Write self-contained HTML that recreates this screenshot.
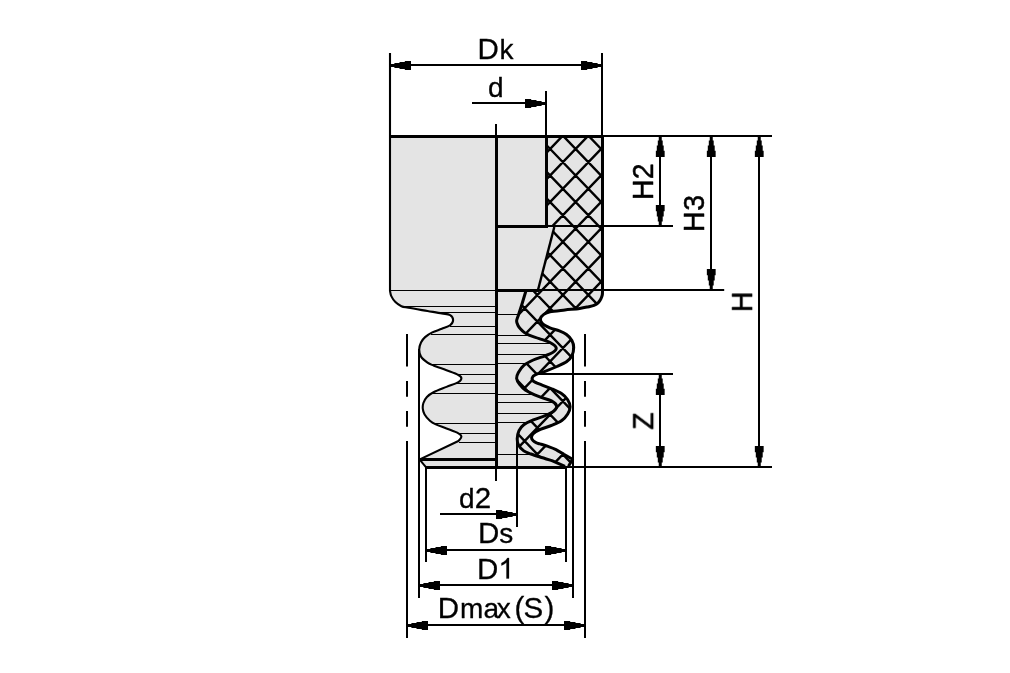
<!DOCTYPE html>
<html><head><meta charset="utf-8"><title>Bellows suction cup dimensions</title>
<style>
html,body{margin:0;padding:0;background:#fff;}
body{width:1010px;height:673px;overflow:hidden;}
svg{display:block;}
text{font-family:"Liberation Sans",sans-serif;font-size:29.5px;fill:#000;}
</style></head><body>
<svg width="1010" height="673" viewBox="0 0 1010 673">
<rect x="0" y="0" width="1010" height="673" fill="#fff"/>
<path d="M390,136.5 L390,290.8 C390.22,291.68 390.4,294.22 391.3,296.1 C392.2,297.98 393.72,300.42 395.4,302.1 C397.08,303.78 399.22,305.25 401.4,306.2 C403.58,307.15 404.15,307 408.5,307.8 C412.85,308.6 421.95,310.07 427.5,311 C433.05,311.93 438.03,312.72 441.8,313.4 C445.57,314.08 448.22,314.02 450.1,315.1 C451.98,316.18 453.1,318.22 453.1,319.9 C453.1,321.58 451.98,323.72 450.1,325.2 C448.22,326.68 444.77,327.6 441.8,328.8 C438.83,330 435.08,331.02 432.3,332.4 C429.52,333.78 426.98,335.42 425.1,337.1 C423.22,338.78 421.98,340.43 421,342.5 C420.02,344.57 419.2,347.15 419.2,349.5 C419.2,351.85 419.62,354.42 421,356.6 C422.38,358.78 425.42,361.12 427.5,362.6 C429.58,364.08 430.33,364.22 433.5,365.5 C436.67,366.78 442.35,368.72 446.5,370.3 C450.65,371.88 455.92,373.67 458.4,375 C460.88,376.33 461.4,377.1 461.4,378.3 C461.4,379.5 460.88,380.77 458.4,382.2 C455.92,383.63 450.65,385.22 446.5,386.9 C442.35,388.58 436.77,390.62 433.5,392.3 C430.23,393.98 428.58,395.22 426.9,397 C425.22,398.78 424.08,401.02 423.4,403 C422.72,404.98 422.6,406.98 422.8,408.9 C423,410.82 423.42,412.52 424.6,414.5 C425.78,416.48 428.03,419.15 429.9,420.8 C431.77,422.45 433.03,423.12 435.8,424.4 C438.57,425.68 442.73,427.02 446.5,428.5 C450.27,429.98 455.92,431.92 458.4,433.3 C460.88,434.68 461.4,435.52 461.4,436.8 C461.4,438.08 458.9,440.3 458.4,441 L419.8,459.4 L425.7,466.8 L496.5,467.5 L496.5,136.5 Z" fill="#e4e4e4" stroke="none"/>
<path d="M496.5,136.5 L602.5,136.5 L602.5,290 C602.47,290.82 602.58,293.4 602.3,294.9 C602.02,296.4 601.5,297.67 600.8,299 C600.1,300.33 599.23,301.85 598.1,302.9 C596.97,303.95 595.58,304.67 594,305.3 C592.42,305.93 590.98,306.17 588.6,306.7 C586.22,307.23 583.65,307.95 579.7,308.5 C575.75,309.05 569.85,309.45 564.9,310 C559.95,310.55 553.52,311.07 550,311.8 C546.48,312.53 545.38,313.28 543.8,314.4 C542.22,315.52 540.77,317 540.5,318.5 C540.23,320 540.63,321.83 542.2,323.4 C543.77,324.97 547.03,326.65 549.9,327.9 C552.77,329.15 556.63,329.8 559.4,330.9 C562.17,332 564.42,332.92 566.5,334.5 C568.58,336.08 570.7,338.23 571.9,340.4 C573.1,342.57 573.7,344.93 573.7,347.5 C573.7,350.07 573.1,353.42 571.9,355.8 C570.7,358.18 568.98,360.02 566.5,361.8 C564.02,363.58 560.57,364.92 557,366.5 C553.43,368.08 548.67,369.95 545.1,371.3 C541.53,372.65 537.73,373.55 535.6,374.6 C533.47,375.65 532.65,376.48 532.3,377.6 C531.95,378.72 531.95,380.08 533.5,381.3 C535.05,382.52 538.47,383.62 541.6,384.9 C544.73,386.18 548.93,387.52 552.3,389 C555.67,390.48 559.23,392.02 561.8,393.8 C564.37,395.58 566.32,397.53 567.7,399.7 C569.08,401.87 570.1,404.42 570.1,406.8 C570.1,409.18 569.08,411.72 567.7,414 C566.32,416.28 564.37,418.63 561.8,420.5 C559.23,422.37 555.87,423.72 552.3,425.2 C548.73,426.68 543.57,428 540.4,429.4 C537.23,430.8 534.78,432.22 533.3,433.6 C531.82,434.98 531.52,436.5 531.5,437.7 C531.48,438.9 532.37,439.93 533.2,440.8 C534.03,441.67 535.37,442.38 536.5,442.9 C537.63,443.42 538.08,443.32 540,443.9 C541.92,444.48 545.33,445.45 548,446.4 C550.67,447.35 553.37,448.28 556,449.6 C558.63,450.92 562.5,453.52 563.8,454.3 L572.6,459.2 L568.5,466.3 L496.5,467.5 Z" fill="#e4e4e4" stroke="none"/>
<defs><clipPath id="hc"><path d="M546.5,136.5 L602.5,136.5 L602.5,290 C602.47,290.82 602.58,293.4 602.3,294.9 C602.02,296.4 601.5,297.67 600.8,299 C600.1,300.33 599.23,301.85 598.1,302.9 C596.97,303.95 595.58,304.67 594,305.3 C592.42,305.93 590.98,306.17 588.6,306.7 C586.22,307.23 583.65,307.95 579.7,308.5 C575.75,309.05 569.85,309.45 564.9,310 C559.95,310.55 553.52,311.07 550,311.8 C546.48,312.53 545.38,313.28 543.8,314.4 C542.22,315.52 540.77,317 540.5,318.5 C540.23,320 540.63,321.83 542.2,323.4 C543.77,324.97 547.03,326.65 549.9,327.9 C552.77,329.15 556.63,329.8 559.4,330.9 C562.17,332 564.42,332.92 566.5,334.5 C568.58,336.08 570.7,338.23 571.9,340.4 C573.1,342.57 573.7,344.93 573.7,347.5 C573.7,350.07 573.1,353.42 571.9,355.8 C570.7,358.18 568.98,360.02 566.5,361.8 C564.02,363.58 560.57,364.92 557,366.5 C553.43,368.08 548.67,369.95 545.1,371.3 C541.53,372.65 537.73,373.55 535.6,374.6 C533.47,375.65 532.65,376.48 532.3,377.6 C531.95,378.72 531.95,380.08 533.5,381.3 C535.05,382.52 538.47,383.62 541.6,384.9 C544.73,386.18 548.93,387.52 552.3,389 C555.67,390.48 559.23,392.02 561.8,393.8 C564.37,395.58 566.32,397.53 567.7,399.7 C569.08,401.87 570.1,404.42 570.1,406.8 C570.1,409.18 569.08,411.72 567.7,414 C566.32,416.28 564.37,418.63 561.8,420.5 C559.23,422.37 555.87,423.72 552.3,425.2 C548.73,426.68 543.57,428 540.4,429.4 C537.23,430.8 534.78,432.22 533.3,433.6 C531.82,434.98 531.52,436.5 531.5,437.7 C531.48,438.9 532.37,439.93 533.2,440.8 C534.03,441.67 535.37,442.38 536.5,442.9 C537.63,443.42 538.08,443.32 540,443.9 C541.92,444.48 545.33,445.45 548,446.4 C550.67,447.35 553.37,448.28 556,449.6 C558.63,450.92 562.5,453.52 563.8,454.3 L572.6,459.2 L568.5,466.3 L565,466.3 L551.9,460.6 C549.92,460 543.48,458.1 540,457 C536.52,455.9 533.7,455.02 531,454 C528.3,452.98 525.87,452.37 523.8,450.9 C521.73,449.43 519.7,447.2 518.6,445.2 C517.5,443.2 517.13,441.33 517.2,438.9 C517.27,436.47 517.9,432.97 519,430.6 C520.1,428.23 521.42,426.48 523.8,424.7 C526.18,422.92 529.75,421.4 533.3,419.9 C536.85,418.4 541.67,417.18 545.1,415.7 C548.53,414.22 551.98,412.63 553.9,411 C555.82,409.37 557,407.58 556.6,405.9 C556.2,404.22 554.4,402.43 551.5,400.9 C548.6,399.37 543.53,398.48 539.2,396.7 C534.87,394.92 528.77,392.27 525.5,390.2 C522.23,388.13 521.08,386.28 519.6,384.3 C518.12,382.32 516.8,380.27 516.6,378.3 C516.4,376.33 517.2,374.67 518.4,372.5 C519.6,370.33 521.32,367.38 523.8,365.3 C526.28,363.22 529.75,361.58 533.3,360 C536.85,358.42 541.83,357.07 545.1,355.8 C548.37,354.53 551.05,353.73 552.9,352.4 C554.75,351.07 556.62,349.42 556.2,347.8 C555.78,346.18 553.23,344.23 550.4,342.7 C547.57,341.17 542.77,339.85 539.2,338.6 C535.63,337.35 531.5,336.23 529,335.2 C526.5,334.17 525.6,333.43 524.2,332.4 C522.8,331.37 521.63,330.15 520.6,329 C519.57,327.85 518.67,326.83 518,325.5 C517.33,324.17 516.57,322.63 516.6,321 C516.63,319.37 517.35,318.37 518.2,315.7 C519.05,313.03 520.42,309.12 521.7,305 C522.98,300.88 525.2,293.33 525.9,291 L538,290 L554.3,227 L546.5,226 Z"/></clipPath></defs>
<g clip-path="url(#hc)"><path d="M-10.9,95.78 L448.1,573.86 M91.1,95.78 L-367.9,573.86 M14.6,95.78 L473.6,573.86 M116.6,95.78 L-342.4,573.86 M40.1,95.78 L499.1,573.86 M142.1,95.78 L-316.9,573.86 M65.6,95.78 L524.6,573.86 M167.6,95.78 L-291.4,573.86 M91.1,95.78 L550.1,573.86 M193.1,95.78 L-265.9,573.86 M116.6,95.78 L575.6,573.86 M218.6,95.78 L-240.4,573.86 M142.1,95.78 L601.1,573.86 M244.1,95.78 L-214.9,573.86 M167.6,95.78 L626.6,573.86 M269.6,95.78 L-189.4,573.86 M193.1,95.78 L652.1,573.86 M295.1,95.78 L-163.9,573.86 M218.6,95.78 L677.6,573.86 M320.6,95.78 L-138.4,573.86 M244.1,95.78 L703.1,573.86 M346.1,95.78 L-112.9,573.86 M269.6,95.78 L728.6,573.86 M371.6,95.78 L-87.4,573.86 M295.1,95.78 L754.1,573.86 M397.1,95.78 L-61.9,573.86 M320.6,95.78 L779.6,573.86 M422.6,95.78 L-36.4,573.86 M346.1,95.78 L805.1,573.86 M448.1,95.78 L-10.9,573.86 M371.6,95.78 L830.6,573.86 M473.6,95.78 L14.6,573.86 M397.1,95.78 L856.1,573.86 M499.1,95.78 L40.1,573.86 M422.6,95.78 L881.6,573.86 M524.6,95.78 L65.6,573.86 M448.1,95.78 L907.1,573.86 M550.1,95.78 L91.1,573.86 M473.6,95.78 L932.6,573.86 M575.6,95.78 L116.6,573.86 M499.1,95.78 L958.1,573.86 M601.1,95.78 L142.1,573.86 M524.6,95.78 L983.6,573.86 M626.6,95.78 L167.6,573.86 M550.1,95.78 L1009.1,573.86 M652.1,95.78 L193.1,573.86 M575.6,95.78 L1034.6,573.86 M677.6,95.78 L218.6,573.86 M601.1,95.78 L1060.1,573.86 M703.1,95.78 L244.1,573.86 M626.6,95.78 L1085.6,573.86 M728.6,95.78 L269.6,573.86 M652.1,95.78 L1111.1,573.86 M754.1,95.78 L295.1,573.86 M677.6,95.78 L1136.6,573.86 M779.6,95.78 L320.6,573.86 M703.1,95.78 L1162.1,573.86 M805.1,95.78 L346.1,573.86 M728.6,95.78 L1187.6,573.86 M830.6,95.78 L371.6,573.86 M754.1,95.78 L1213.1,573.86 M856.1,95.78 L397.1,573.86 M779.6,95.78 L1238.6,573.86 M881.6,95.78 L422.6,573.86 M805.1,95.78 L1264.1,573.86 M907.1,95.78 L448.1,573.86 M830.6,95.78 L1289.6,573.86 M932.6,95.78 L473.6,573.86 M856.1,95.78 L1315.1,573.86 M958.1,95.78 L499.1,573.86 M881.6,95.78 L1340.6,573.86 M983.6,95.78 L524.6,573.86 M907.1,95.78 L1366.1,573.86 M1009.1,95.78 L550.1,573.86 M932.6,95.78 L1391.6,573.86 M1034.6,95.78 L575.6,573.86 M958.1,95.78 L1417.1,573.86 M1060.1,95.78 L601.1,573.86 M983.6,95.78 L1442.6,573.86 M1085.6,95.78 L626.6,573.86 M1009.1,95.78 L1468.1,573.86 M1111.1,95.78 L652.1,573.86 M1034.6,95.78 L1493.6,573.86 M1136.6,95.78 L677.6,573.86 M1060.1,95.78 L1519.1,573.86 M1162.1,95.78 L703.1,573.86 M1085.6,95.78 L1544.6,573.86 M1187.6,95.78 L728.6,573.86 M1111.1,95.78 L1570.1,573.86 M1213.1,95.78 L754.1,573.86" fill="none" stroke="#000" stroke-width="2.4"/></g>
<path d="M390,290.5 H496.5 M402,306.5 H496.5 M437,312.5 H496.5 M450,326.5 H496.5 M431,334.5 H496.5 M432,364.5 H496.5 M458,374.5 H496.5 M457,383.5 H496.5 M433,393.5 H496.5 M435,423.5 H496.5 M459,433.5 H496.5 M459,442.5 H496.5" fill="none" stroke="#000" stroke-width="1.1"/>
<path d="M496.5,314.5 H518 M496.5,335.5 H528 M496.5,343.5 H551 M496.5,354.5 H549 M496.5,363.5 H527 M496.5,394.5 H535 M496.5,402.5 H553 M496.5,413.5 H549 M496.5,422.5 H528 M496.5,454.5 H534" fill="none" stroke="#000" stroke-width="1.1"/>
<path d="M390,53 L390,290.8 C390.22,291.68 390.4,294.22 391.3,296.1 C392.2,297.98 393.72,300.42 395.4,302.1 C397.08,303.78 399.22,305.25 401.4,306.2 C403.58,307.15 404.15,307 408.5,307.8 C412.85,308.6 421.95,310.07 427.5,311 C433.05,311.93 438.03,312.72 441.8,313.4 C445.57,314.08 448.22,314.02 450.1,315.1 C451.98,316.18 453.1,318.22 453.1,319.9 C453.1,321.58 451.98,323.72 450.1,325.2 C448.22,326.68 444.77,327.6 441.8,328.8 C438.83,330 435.08,331.02 432.3,332.4 C429.52,333.78 426.98,335.42 425.1,337.1 C423.22,338.78 421.98,340.43 421,342.5 C420.02,344.57 419.2,347.15 419.2,349.5 C419.2,351.85 419.62,354.42 421,356.6 C422.38,358.78 425.42,361.12 427.5,362.6 C429.58,364.08 430.33,364.22 433.5,365.5 C436.67,366.78 442.35,368.72 446.5,370.3 C450.65,371.88 455.92,373.67 458.4,375 C460.88,376.33 461.4,377.1 461.4,378.3 C461.4,379.5 460.88,380.77 458.4,382.2 C455.92,383.63 450.65,385.22 446.5,386.9 C442.35,388.58 436.77,390.62 433.5,392.3 C430.23,393.98 428.58,395.22 426.9,397 C425.22,398.78 424.08,401.02 423.4,403 C422.72,404.98 422.6,406.98 422.8,408.9 C423,410.82 423.42,412.52 424.6,414.5 C425.78,416.48 428.03,419.15 429.9,420.8 C431.77,422.45 433.03,423.12 435.8,424.4 C438.57,425.68 442.73,427.02 446.5,428.5 C450.27,429.98 455.92,431.92 458.4,433.3 C460.88,434.68 461.4,435.52 461.4,436.8 C461.4,438.08 458.9,440.3 458.4,441 L419.8,459.4" fill="none" stroke="#000" stroke-width="2.1" stroke-linejoin="round"/>
<path d="M420.3,460.4 L425.7,466.8" fill="none" stroke="#000" stroke-width="2"/>
<path d="M602.5,290 C602.47,290.82 602.58,293.4 602.3,294.9 C602.02,296.4 601.5,297.67 600.8,299 C600.1,300.33 599.23,301.85 598.1,302.9 C596.97,303.95 595.58,304.67 594,305.3 C592.42,305.93 590.98,306.17 588.6,306.7 C586.22,307.23 583.65,307.95 579.7,308.5 C575.75,309.05 569.85,309.45 564.9,310 C559.95,310.55 553.52,311.07 550,311.8 C546.48,312.53 545.38,313.28 543.8,314.4 C542.22,315.52 540.77,317 540.5,318.5 C540.23,320 540.63,321.83 542.2,323.4 C543.77,324.97 547.03,326.65 549.9,327.9 C552.77,329.15 556.63,329.8 559.4,330.9 C562.17,332 564.42,332.92 566.5,334.5 C568.58,336.08 570.7,338.23 571.9,340.4 C573.1,342.57 573.7,344.93 573.7,347.5 C573.7,350.07 573.1,353.42 571.9,355.8 C570.7,358.18 568.98,360.02 566.5,361.8 C564.02,363.58 560.57,364.92 557,366.5 C553.43,368.08 548.67,369.95 545.1,371.3 C541.53,372.65 537.73,373.55 535.6,374.6 C533.47,375.65 532.65,376.48 532.3,377.6 C531.95,378.72 531.95,380.08 533.5,381.3 C535.05,382.52 538.47,383.62 541.6,384.9 C544.73,386.18 548.93,387.52 552.3,389 C555.67,390.48 559.23,392.02 561.8,393.8 C564.37,395.58 566.32,397.53 567.7,399.7 C569.08,401.87 570.1,404.42 570.1,406.8 C570.1,409.18 569.08,411.72 567.7,414 C566.32,416.28 564.37,418.63 561.8,420.5 C559.23,422.37 555.87,423.72 552.3,425.2 C548.73,426.68 543.57,428 540.4,429.4 C537.23,430.8 534.78,432.22 533.3,433.6 C531.82,434.98 531.52,436.5 531.5,437.7 C531.48,438.9 532.37,439.93 533.2,440.8 C534.03,441.67 535.37,442.38 536.5,442.9 C537.63,443.42 538.08,443.32 540,443.9 C541.92,444.48 545.33,445.45 548,446.4 C550.67,447.35 553.37,448.28 556,449.6 C558.63,450.92 562.5,453.52 563.8,454.3 L572.6,459.2 L568.5,466.3" fill="none" stroke="#000" stroke-width="3.0" stroke-linejoin="round"/>
<path d="M525.9,291 C525.2,293.33 522.98,300.88 521.7,305 C520.42,309.12 519.05,313.03 518.2,315.7 C517.35,318.37 516.63,319.37 516.6,321 C516.57,322.63 517.33,324.17 518,325.5 C518.67,326.83 519.57,327.85 520.6,329 C521.63,330.15 522.8,331.37 524.2,332.4 C525.6,333.43 526.5,334.17 529,335.2 C531.5,336.23 535.63,337.35 539.2,338.6 C542.77,339.85 547.57,341.17 550.4,342.7 C553.23,344.23 555.78,346.18 556.2,347.8 C556.62,349.42 554.75,351.07 552.9,352.4 C551.05,353.73 548.37,354.53 545.1,355.8 C541.83,357.07 536.85,358.42 533.3,360 C529.75,361.58 526.28,363.22 523.8,365.3 C521.32,367.38 519.6,370.33 518.4,372.5 C517.2,374.67 516.4,376.33 516.6,378.3 C516.8,380.27 518.12,382.32 519.6,384.3 C521.08,386.28 522.23,388.13 525.5,390.2 C528.77,392.27 534.87,394.92 539.2,396.7 C543.53,398.48 548.6,399.37 551.5,400.9 C554.4,402.43 556.2,404.22 556.6,405.9 C557,407.58 555.82,409.37 553.9,411 C551.98,412.63 548.53,414.22 545.1,415.7 C541.67,417.18 536.85,418.4 533.3,419.9 C529.75,421.4 526.18,422.92 523.8,424.7 C521.42,426.48 520.1,428.23 519,430.6 C517.9,432.97 517.27,436.47 517.2,438.9 C517.13,441.33 517.5,443.2 518.6,445.2 C519.7,447.2 521.73,449.43 523.8,450.9 C525.87,452.37 528.3,452.98 531,454 C533.7,455.02 536.52,455.9 540,457 C543.48,458.1 549.92,460 551.9,460.6 L565,466.3" fill="none" stroke="#000" stroke-width="3.0" stroke-linejoin="round"/>
<path d="M554.3,227 L538,290" fill="none" stroke="#000" stroke-width="2.4"/>
<line x1="602" y1="53" x2="602" y2="136.5" stroke="#000" stroke-width="2"/>
<line x1="602.5" y1="136.5" x2="602.5" y2="291" stroke="#000" stroke-width="3"/>
<line x1="389" y1="136.5" x2="604" y2="136.5" stroke="#000" stroke-width="3"/>
<line x1="604" y1="136" x2="772" y2="136" stroke="#000" stroke-width="2"/>
<line x1="496" y1="124" x2="496" y2="136.5" stroke="#000" stroke-width="2"/>
<line x1="496.5" y1="135" x2="496.5" y2="469" stroke="#000" stroke-width="3"/>
<line x1="496" y1="467.5" x2="496" y2="481" stroke="#000" stroke-width="2"/>
<line x1="546" y1="91" x2="546" y2="136.5" stroke="#000" stroke-width="2"/>
<line x1="546.5" y1="136.5" x2="546.5" y2="227" stroke="#000" stroke-width="3"/>
<line x1="496.5" y1="226.5" x2="548" y2="226.5" stroke="#000" stroke-width="3"/>
<line x1="548" y1="226" x2="673" y2="226" stroke="#000" stroke-width="2"/>
<line x1="496.5" y1="290.5" x2="539" y2="290.5" stroke="#000" stroke-width="3"/>
<line x1="539" y1="290" x2="724.2" y2="290" stroke="#000" stroke-width="2"/>
<line x1="535" y1="374" x2="673" y2="374" stroke="#000" stroke-width="2"/>
<line x1="420" y1="459.5" x2="496.5" y2="459.5" stroke="#000" stroke-width="3"/>
<line x1="425" y1="467.5" x2="567" y2="467.5" stroke="#000" stroke-width="3"/>
<line x1="567" y1="467" x2="772" y2="467" stroke="#000" stroke-width="2"/>
<line x1="407" y1="334" x2="407" y2="366.6" stroke="#000" stroke-width="2"/>
<line x1="407" y1="381" x2="407" y2="396.8" stroke="#000" stroke-width="2"/>
<line x1="407" y1="411" x2="407" y2="426.8" stroke="#000" stroke-width="2"/>
<line x1="407" y1="441" x2="407" y2="638" stroke="#000" stroke-width="2"/>
<line x1="585" y1="334" x2="585" y2="366.6" stroke="#000" stroke-width="2"/>
<line x1="585" y1="381" x2="585" y2="396.8" stroke="#000" stroke-width="2"/>
<line x1="585" y1="411" x2="585" y2="426.8" stroke="#000" stroke-width="2"/>
<line x1="585" y1="441" x2="585" y2="638" stroke="#000" stroke-width="2"/>
<line x1="419" y1="349" x2="419" y2="598" stroke="#000" stroke-width="2"/>
<line x1="573" y1="347.5" x2="573" y2="598" stroke="#000" stroke-width="2"/>
<line x1="426" y1="467" x2="426" y2="562" stroke="#000" stroke-width="2"/>
<line x1="566" y1="467" x2="566" y2="562" stroke="#000" stroke-width="2"/>
<line x1="517" y1="438" x2="517" y2="527" stroke="#000" stroke-width="2"/>
<line x1="390" y1="65" x2="602" y2="65" stroke="#000" stroke-width="2"/>
<polygon points="390,67 394.4,67 394.4,67.95 399.5,67.95 399.5,68.95 404.8,68.95 404.8,69.9 411,69.9 411,61.1 404.8,61.1 404.8,62.05 399.5,62.05 399.5,63.05 394.4,63.05 394.4,64 390,64" fill="#000"/>
<polygon points="602,64 597.6,64 597.6,63.05 592.5,63.05 592.5,62.05 587.2,62.05 587.2,61.1 581,61.1 581,69.9 587.2,69.9 587.2,68.95 592.5,68.95 592.5,67.95 597.6,67.95 597.6,67 602,67" fill="#000"/>
<line x1="472" y1="103" x2="546" y2="103" stroke="#000" stroke-width="2"/>
<polygon points="546,102 541.6,102 541.6,101.05 536.5,101.05 536.5,100.05 531.2,100.05 531.2,99.1 525,99.1 525,107.9 531.2,107.9 531.2,106.95 536.5,106.95 536.5,105.95 541.6,105.95 541.6,105 546,105" fill="#000"/>
<line x1="440" y1="514" x2="517" y2="514" stroke="#000" stroke-width="2"/>
<polygon points="517,513 512.6,513 512.6,512.05 507.5,512.05 507.5,511.05 502.2,511.05 502.2,510.1 496,510.1 496,518.9 502.2,518.9 502.2,517.95 507.5,517.95 507.5,516.95 512.6,516.95 512.6,516 517,516" fill="#000"/>
<line x1="426" y1="550" x2="566" y2="550" stroke="#000" stroke-width="2"/>
<polygon points="426,552 430.4,552 430.4,552.95 435.5,552.95 435.5,553.95 440.8,553.95 440.8,554.9 447,554.9 447,546.1 440.8,546.1 440.8,547.05 435.5,547.05 435.5,548.05 430.4,548.05 430.4,549 426,549" fill="#000"/>
<polygon points="566,549 561.6,549 561.6,548.05 556.5,548.05 556.5,547.05 551.2,547.05 551.2,546.1 545,546.1 545,554.9 551.2,554.9 551.2,553.95 556.5,553.95 556.5,552.95 561.6,552.95 561.6,552 566,552" fill="#000"/>
<line x1="419" y1="585" x2="573" y2="585" stroke="#000" stroke-width="2"/>
<polygon points="419,587 423.4,587 423.4,587.95 428.5,587.95 428.5,588.95 433.8,588.95 433.8,589.9 440,589.9 440,581.1 433.8,581.1 433.8,582.05 428.5,582.05 428.5,583.05 423.4,583.05 423.4,584 419,584" fill="#000"/>
<polygon points="573,584 568.6,584 568.6,583.05 563.5,583.05 563.5,582.05 558.2,582.05 558.2,581.1 552,581.1 552,589.9 558.2,589.9 558.2,588.95 563.5,588.95 563.5,587.95 568.6,587.95 568.6,587 573,587" fill="#000"/>
<line x1="407" y1="625" x2="585" y2="625" stroke="#000" stroke-width="2"/>
<polygon points="407,627 411.4,627 411.4,627.95 416.5,627.95 416.5,628.95 421.8,628.95 421.8,629.9 428,629.9 428,621.1 421.8,621.1 421.8,622.05 416.5,622.05 416.5,623.05 411.4,623.05 411.4,624 407,624" fill="#000"/>
<polygon points="585,624 580.6,624 580.6,623.05 575.5,623.05 575.5,622.05 570.2,622.05 570.2,621.1 564,621.1 564,629.9 570.2,629.9 570.2,628.95 575.5,628.95 575.5,627.95 580.6,627.95 580.6,627 585,627" fill="#000"/>
<line x1="660" y1="136" x2="660" y2="226" stroke="#000" stroke-width="2"/>
<polygon points="658.75,136 658.75,140.4 657.8,140.4 657.8,145.5 656.8,145.5 656.8,150.8 655.85,150.8 655.85,157 664.65,157 664.65,150.8 663.7,150.8 663.7,145.5 662.7,145.5 662.7,140.4 661.75,140.4 661.75,136" fill="#000"/>
<polygon points="661.75,226 661.75,221.6 662.7,221.6 662.7,216.5 663.7,216.5 663.7,211.2 664.65,211.2 664.65,205 655.85,205 655.85,211.2 656.8,211.2 656.8,216.5 657.8,216.5 657.8,221.6 658.75,221.6 658.75,226" fill="#000"/>
<line x1="711" y1="136" x2="711" y2="290" stroke="#000" stroke-width="2"/>
<polygon points="709.75,136 709.75,140.4 708.8,140.4 708.8,145.5 707.8,145.5 707.8,150.8 706.85,150.8 706.85,157 715.65,157 715.65,150.8 714.7,150.8 714.7,145.5 713.7,145.5 713.7,140.4 712.75,140.4 712.75,136" fill="#000"/>
<polygon points="712.75,290 712.75,285.6 713.7,285.6 713.7,280.5 714.7,280.5 714.7,275.2 715.65,275.2 715.65,269 706.85,269 706.85,275.2 707.8,275.2 707.8,280.5 708.8,280.5 708.8,285.6 709.75,285.6 709.75,290" fill="#000"/>
<line x1="759" y1="136" x2="759" y2="467" stroke="#000" stroke-width="2"/>
<polygon points="757.75,136 757.75,140.4 756.8,140.4 756.8,145.5 755.8,145.5 755.8,150.8 754.85,150.8 754.85,157 763.65,157 763.65,150.8 762.7,150.8 762.7,145.5 761.7,145.5 761.7,140.4 760.75,140.4 760.75,136" fill="#000"/>
<polygon points="760.75,467 760.75,462.6 761.7,462.6 761.7,457.5 762.7,457.5 762.7,452.2 763.65,452.2 763.65,446 754.85,446 754.85,452.2 755.8,452.2 755.8,457.5 756.8,457.5 756.8,462.6 757.75,462.6 757.75,467" fill="#000"/>
<line x1="660" y1="374" x2="660" y2="467" stroke="#000" stroke-width="2"/>
<polygon points="658.75,374 658.75,378.4 657.8,378.4 657.8,383.5 656.8,383.5 656.8,388.8 655.85,388.8 655.85,395 664.65,395 664.65,388.8 663.7,388.8 663.7,383.5 662.7,383.5 662.7,378.4 661.75,378.4 661.75,374" fill="#000"/>
<polygon points="661.75,467 661.75,462.6 662.7,462.6 662.7,457.5 663.7,457.5 663.7,452.2 664.65,452.2 664.65,446 655.85,446 655.85,452.2 656.8,452.2 656.8,457.5 657.8,457.5 657.8,462.6 658.75,462.6 658.75,467" fill="#000"/>
<g opacity="0.999" stroke="#000" stroke-width="0.3" stroke-linejoin="round">
<text y="58.5"><tspan x="477.6" font-size="29.5">D</tspan><tspan x="499.5" font-size="28">k</tspan></text>
<text y="96.6"><tspan x="488" font-size="28">d</tspan></text>
<text y="507.8"><tspan x="458.9" font-size="28">d</tspan><tspan x="474.7" font-size="29.5">2</tspan></text>
<text y="543.4"><tspan x="478" font-size="29.5">D</tspan><tspan x="499.3" font-size="28">s</tspan></text>
<text y="578.6"><tspan x="477" font-size="29.5">D</tspan></text>
<path transform="translate(498.34,578.5) scale(0.01396,-0.01396)" d="M763,0 H583 V1147 Q518,1085 412.5,1023 Q307,961 223,930 V1104 Q374,1175 487,1276 Q600,1377 647,1472 H763 Z" stroke-width="20"/>
<text y="618.4"><tspan x="437.7" font-size="29.5">D</tspan><tspan x="459.9" font-size="28">m</tspan><tspan x="483.5" font-size="28">a</tspan><tspan x="496.7" font-size="28">x</tspan><tspan x="514.4" font-size="29.5">(</tspan><tspan x="523.5" font-size="29.5">S</tspan><tspan x="544.5" font-size="29.5">)</tspan></text>
<text transform="translate(653.2,199.9) rotate(-90) scale(0.9672,1)" font-size="30.5" stroke-width="0.5"><tspan x="0">H</tspan><tspan x="21.3">2</tspan></text>
<text transform="translate(704.2,232) rotate(-90) scale(0.9672,1)" font-size="30.5" stroke-width="0.5"><tspan x="0">H</tspan><tspan x="22.02">3</tspan></text>
<text transform="translate(752.1,312.2) rotate(-90) scale(0.9672,1)" font-size="30.5" stroke-width="0.5"><tspan x="0">H</tspan></text>
<text transform="translate(653.2,429.8) rotate(-90) scale(0.9672,1)" font-size="30.5" stroke-width="0.5"><tspan x="0">Z</tspan></text>
</g>
</svg>
</body></html>
